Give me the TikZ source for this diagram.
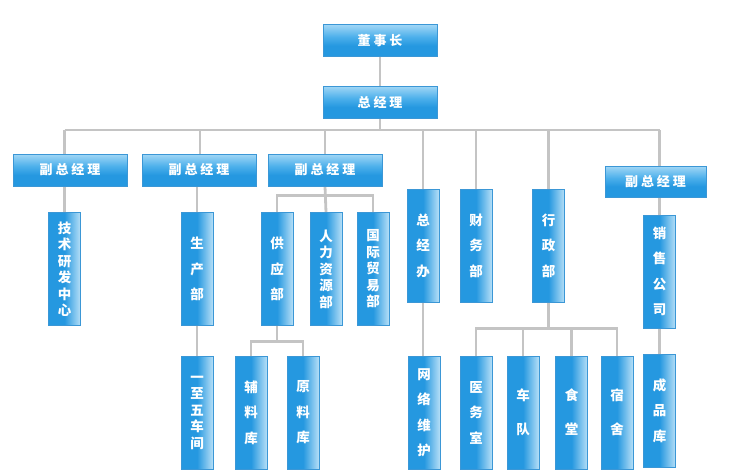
\documentclass[tikz,border=0pt]{standalone}
\usepackage{fontspec}
\newfontfamily\cjk{Noto Sans CJK SC}
\usetikzlibrary{backgrounds}

\definecolor{boxA}{HTML}{2598E0}
\definecolor{boxB}{HTML}{B6DFF7}
\definecolor{boxM}{HTML}{4DB0EB}
\definecolor{boxC}{HTML}{A2D7F6}
\definecolor{boxE}{HTML}{3B97D6}
\definecolor{wireclr}{HTML}{C4C4C4}
\pgfdeclarehorizontalshading{vshade}{100bp}{color(0bp)=(boxA); color(25bp)=(boxA); color(50bp)=(boxA); color(75bp)=(boxB); color(100bp)=(boxB)}
\pgfdeclareverticalshading{hshade}{100bp}{color(0bp)=(boxA); color(25bp)=(boxA); color(42bp)=(boxA); color(56bp)=(boxM); color(75bp)=(boxC); color(100bp)=(boxC)}

\tikzset{
  hbox/.style={draw=boxE, line width=0.6pt, shading=hshade, minimum width=114pt,
    minimum height=32pt, inner sep=0pt, text=white,
    font=\cjk\bfseries\fontsize{13}{15}\selectfont},
  vbox/.style={draw=boxE, line width=0.6pt, shading=vshade, minimum width=32pt,
    minimum height=113pt, inner sep=0pt, text=white, align=center,
    font=\cjk\bfseries\fontsize{13.5}{25.5}\selectfont},
  tight/.style={font=\cjk\bfseries\fontsize{13.5}{16.5}\selectfont},
  loose/.style={font=\cjk\bfseries\fontsize{13.5}{34}\selectfont},
  wire/.style={draw=wireclr, line width=2.8pt}
}

\begin{document}
\begin{tikzpicture}[x=1pt,y=-1pt]
  \useasboundingbox (0,0) rectangle (739,474);
  \coordinate (bus) at (0,130);
  % top
  \node[hbox] (dsz) at (380,40.5) {董 事 长};
  \node[hbox] (zjl) at (380,102) {总 经 理};
  % deputies
  \node[hbox] (vp1) at (70,170) {副 总 经 理};
  \node[hbox] (vp2) at (199,170) {副 总 经 理};
  \node[hbox] (vp3) at (325,170) {副 总 经 理};
  \node[hbox, minimum width=101pt, minimum height=31pt] (vp4) at (655.5,181.5) {副 总 经 理};
  % first row
  \node[vbox, tight] (jsyf) at (64.5,269) {技\\术\\研\\发\\中\\心};
  \node[vbox] (scb) at (197,269) {生\\产\\部};
  \node[vbox] (gyb) at (277,269) {供\\应\\部};
  \node[vbox, tight] (rlzy) at (326,269) {人\\力\\资\\源\\部};
  \node[vbox, tight] (gjmy) at (373,269) {国\\际\\贸\\易\\部};
  \node[vbox] (zjb) at (423,245.5) {总\\经\\办};
  \node[vbox] (cwb) at (476,245.5) {财\\务\\部};
  \node[vbox] (xzb) at (548.5,245.5) {行\\政\\部};
  \node[vbox] (xsgs) at (659.5,271.5) {销\\售\\公\\司};
  % second row
  \node[vbox, tight] (cj) at (197,412.5) {一\\至\\五\\车\\间};
  \node[vbox] (flk) at (251,412.5) {辅\\料\\库};
  \node[vbox] (ylk) at (303,412.5) {原\\料\\库};
  \node[vbox] (wlwh) at (424,412.5) {网\\络\\维\\护};
  \node[vbox] (yws) at (476,412.5) {医\\务\\室};
  \node[vbox, loose] (cd) at (523,412.5) {车\\队};
  \node[vbox, loose] (st) at (571.5,412.5) {食\\堂};
  \node[vbox, loose] (ss) at (617,412.5) {宿\\舍};
  \node[vbox] (cpk) at (659.5,410.5) {成\\品\\库};

  \begin{scope}[on background layer]
    \draw[wire] (dsz) -- (zjl);
    \draw[wire] (zjl.south) -- (zjl.south |- bus);
    \draw[wire] (jsyf.north |- bus) -- (xsgs.north |- bus);
    \foreach \n in {jsyf,zjb,cwb,xzb,xsgs}
      \draw[wire] (\n.north) -- (\n.north |- bus);
    \draw[wire] (vp2.north -| 200,0) -- (200,130);
    \draw[wire] (vp2.south -| scb) -- (scb.north);
    \draw[wire] (vp3.north) -- (vp3.north |- bus);
    \draw[wire] (vp3.south) -- (rlzy.north);
    \draw[wire] (gyb.north) -- ++(0,-17) -| (gjmy.north);
    \draw[wire] (scb) -- (cj);
    \draw[wire] (gyb.south) -- ++(0,16) coordinate (g1)
      (flk.north) |- (g1) -| (ylk.north);
    \draw[wire] (wlwh.north -| zjb) -- (zjb.south);
    \draw[wire] (xzb.south) -- ++(0,26) coordinate (x1)
      (yws.north) |- (x1) -| (ss.north)
      (cd.north) -- (cd.north |- x1)
      (st.north) -- (st.north |- x1);
    \draw[wire] (xsgs) -- (cpk);
  \end{scope}
\end{tikzpicture}
\end{document}
